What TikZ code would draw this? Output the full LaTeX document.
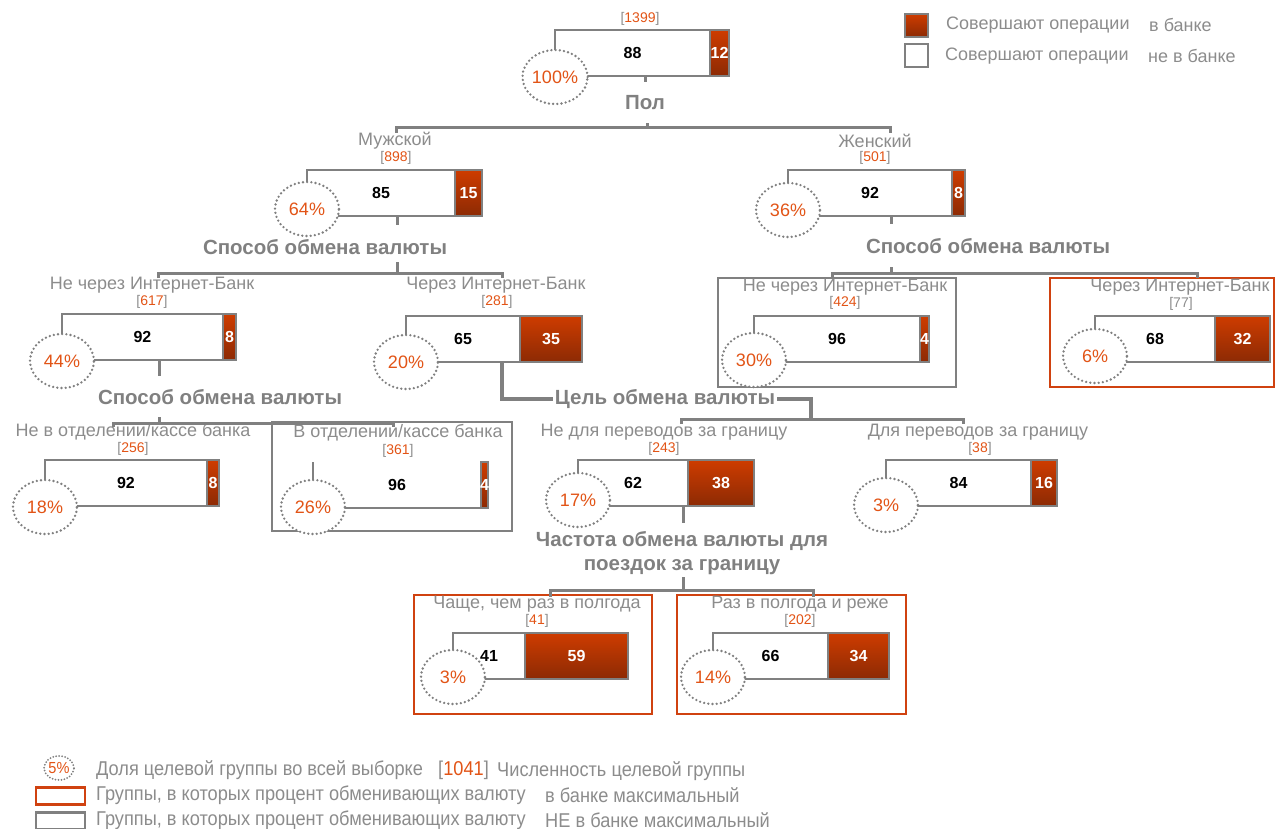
\documentclass[tikz,border=0pt]{standalone}
\usepackage{fontspec}
\setmainfont{Liberation Sans}
\newfontfamily\narrowfont[FakeStretch=0.91]{Liberation Sans}
\usetikzlibrary{shapes.geometric}
\definecolor{lnGray}{RGB}{128,128,128}
\definecolor{lblGray}{RGB}{140,140,140}
\definecolor{pctOrange}{RGB}{226,84,22}
\definecolor{frOrange}{RGB}{208,66,16}
\definecolor{barTop}{RGB}{206,60,0}
\definecolor{barBot}{RGB}{140,42,4}
\tikzstyle{line} = [draw=lnGray, line width=3pt]
\tikzstyle{barframe} = [draw=lnGray, line width=2.5pt]
\tikzstyle{redfill} = [top color=barTop, bottom color=barBot, draw=lnGray, line width=2.5pt]
\tikzstyle{pct} = [ellipse, draw=lnGray, fill=white, line width=2.6pt, dash pattern=on 0pt off 4.2pt, line cap=round, text=pctOrange, font=\fontsize{18}{18}\selectfont, minimum width=64pt, minimum height=54pt, inner sep=0pt]
\tikzstyle{lbl} = [text=lblGray, font=\fontsize{18}{20}\selectfont, inner sep=0pt]
\tikzstyle{cntlbl} = [font=\fontsize{14}{15}\selectfont, inner sep=0pt]
\tikzstyle{ttl} = [text=lnGray, font=\bfseries\fontsize{20.5}{24}\selectfont, align=center, inner sep=2pt]
\tikzstyle{valw} = [font=\bfseries\fontsize{16}{16}\selectfont, inner sep=0pt]
\tikzstyle{valr} = [valw, text=white]
\tikzstyle{hibox} = [draw=frOrange, line width=2.5pt]
\tikzstyle{lobox} = [draw=lnGray, line width=2.5pt]
\tikzstyle{leg} = [text=lblGray, font=\narrowfont\fontsize{20}{22}\selectfont, inner sep=0pt]
\newcommand{\cnt}[1]{\textcolor{lblGray}{[}\textcolor{pctOrange}{#1}\textcolor{lblGray}{]}}
% name, left, top, split, right, white value, red value, share, share y
\newcommand{\splitbar}[9]{%
  \draw[barframe] (#4,#3) -- (#2,#3) -- (#2,#3+46) -- (#4,#3+46);
  \path[redfill] (#4,#3) rectangle (#5,#3+46);
  \node[inner sep=0pt, minimum width={(#5-#2)*1pt}, minimum height=46pt] (#1) at ({(#2+#5)/2},{#3+23}) {};
  \node[pct] (#1-p) at (#2,#9) {#8};
  \node[valw] (#1-w) at ({(#2+#4)/2},{#3+23}) {#6};
  \node[valr] (#1-r) at ({(#4+#5)/2},{#3+23}) {#7};
}

\begin{document}
\begin{tikzpicture}[x=1pt,y=-1pt]
\useasboundingbox (0,0) rectangle (1276,829);

% legend, top right
\node[redfill, minimum size=23pt, inner sep=0pt] (lg-red) at (916.5,25.5) {};
\node[barframe, minimum size=23pt, inner sep=0pt] (lg-white) at (916.5,55.5) {};
\node[lbl, anchor=west] (lg-red-t) at (946,25) {Совершают операции};
\node[lbl, anchor=west] (lg-red-t2) at (1149,25) {в банке};
\node[lbl, anchor=west] (lg-white-t) at (945,56) {Совершают операции};
\node[lbl, anchor=west] (lg-white-t2) at (1148,56) {не в банке};

% group frames
\draw[lobox] (718,278) rectangle (956,387);
\draw[hibox] (1050,278) rectangle (1274,387);
\draw[lobox] (272,422) rectangle (512,531);
\draw[hibox] (414,595) rectangle (652,714);
\draw[hibox] (677,595) rectangle (906,714);

% root
\node[cntlbl] (root-n) at (640,19) {\cnt{1399}};
\splitbar{root}{555}{30}{710}{729}{88}{12}{100\%}{77}
\node[ttl] (pol) at (645,103) {Пол};

% sex
\node[lbl] (men-l) at (395,141) {Мужской};
\node[cntlbl] (men-n) at (396,158) {\cnt{898}};
\splitbar{men}{307}{170}{455}{482}{85}{15}{64\%}{209}
\node[lbl] (wom-l) at (875,141) {Женский};
\node[cntlbl] (wom-n) at (875,158) {\cnt{501}};
\splitbar{wom}{788}{170}{952}{965}{92}{8}{36\%}{210}

\coordinate (pol-br) at (647,128);
\coordinate (men-in) at (396,133);
\coordinate (wom-in) at (890,133);
\draw[line] (root.south -| pol) -- ++(0,6);
\draw[line] (men-in) |- (pol-br) -| (wom-in);
\draw[line] (pol-br) -- ++(0,-5);

\node[ttl] (men-way) at (325,247) {Способ обмена валюты};
\node[ttl] (wom-way) at (988,246) {Способ обмена валюты};

% men, way of exchange
\node[lbl] (m-nib-l) at (152,285) {Не через Интернет-Банк};
\node[cntlbl] (m-nib-n) at (152,302) {\cnt{617}};
\splitbar{m-nib}{62}{314}{223}{236}{92}{8}{44\%}{361}
\node[lbl] (m-ib-l) at (496,285) {Через Интернет-Банк};
\node[cntlbl] (m-ib-n) at (497,302) {\cnt{281}};
\splitbar{m-ib}{406}{316}{520}{582}{65}{35}{20\%}{362}

\coordinate (men-br) at (397,273);
\coordinate (m-nib-in) at (158,278);
\coordinate (m-ib-in) at (502,278);
\draw[line] (men.south -| men-br) -- ++(0,9);
\draw[line] (m-nib-in) |- (men-br) -| (m-ib-in);
\draw[line] (men-br) -- ++(0,-11);

% women, way of exchange
\node[lbl] (w-nib-l) at (845,287) {Не через Интернет-Банк};
\node[cntlbl] (w-nib-n) at (845,303) {\cnt{424}};
\splitbar{w-nib}{754}{316}{920}{929}{96}{4}{30\%}{360}
\node[lbl] (w-ib-l) at (1180,287) {Через Интернет-Банк};
\node[cntlbl, text=lblGray] (w-ib-n) at (1181,304) {[77]};
\splitbar{w-ib}{1095}{316}{1215}{1270}{68}{32}{6\%}{356}

\coordinate (wom-br) at (891,273);
\coordinate (w-nib-in) at (832,278);
\coordinate (w-ib-in) at (1197,278);
\draw[line] (wom.south -| wom-br) -- ++(0,8);
\draw[line] (w-nib-in) |- (wom-br) -| (w-ib-in);
\draw[line] (wom-br) -- ++(0,-6);

% office or not
\node[ttl] (nib-way) at (220,397) {Способ обмена валюты};
\node[lbl] (noff-l) at (133,432) {Не в отделении/кассе банка};
\node[cntlbl] (noff-n) at (133,449) {\cnt{256}};
\splitbar{noff}{45}{460}{207}{219}{92}{8}{18\%}{507}
\node[lbl] (off-l) at (398,433) {В отделении/кассе банка};
\node[cntlbl] (off-n) at (398,451) {\cnt{361}};
\draw[barframe] (313,462) -- (313,508) -- (481,508);
\path[redfill] (481,462) rectangle (488,508);
\node[inner sep=0pt, minimum width=175pt, minimum height=46pt] (off) at (400.5,485) {};
\node[pct] (off-p) at (313,507) {26\%};
\node[valw] (off-w) at (397,485) {96};
\node[valr] (off-r) at (484.5,485) {4};

\coordinate (nib-br) at (159,423);
\coordinate (noff-in) at (113,427);
\coordinate (off-in) at (393,427);
\draw[line] (m-nib.south -| nib-br) -- ++(0,16);
\draw[line] (noff-in) |- (nib-br) -| (off-in);
\draw[line] (nib-br) -- ++(0,-6);

% purpose
\node[ttl] (goal) at (665,399) {Цель обмена валюты};
\coordinate (goal-br) at (811,419);
\coordinate (nabr-in) at (681,424);
\coordinate (abr-in) at (963,424);
\draw[line, line width=3.5pt] (m-ib.south -| m-ib-in) |- (goal.west);
\draw[line, line width=3.5pt] (goal.east) -| (goal-br);
\draw[line] (nabr-in) |- (goal-br) -| (abr-in);

\node[lbl] (nabr-l) at (664,432) {Не для переводов за границу};
\node[cntlbl] (nabr-n) at (664,449) {\cnt{243}};
\splitbar{nabr}{578}{460}{688}{754}{62}{38}{17\%}{500}
\node[lbl] (abr-l) at (978,432) {Для переводов за границу};
\node[cntlbl] (abr-n) at (980,449) {\cnt{38}};
\splitbar{abr}{886}{460}{1031}{1057}{84}{16}{3\%}{505}

% frequency
\node[ttl] (freq) at (682,553) {Частота обмена валюты для\\поездок за границу};
\coordinate (freq-br) at (683,590);
\coordinate (often-in) at (550,597);
\coordinate (rare-in) at (813,597);
\draw[line] (nabr.south -| freq-br) -- ++(0,17);
\draw[line] (often-in) |- (freq-br) -| (rare-in);
\draw[line] (freq-br) -- (freq-br |- freq.south);

\node[lbl] (often-l) at (537,604) {Чаще, чем раз в полгода};
\node[cntlbl] (often-n) at (537,621) {\cnt{41}};
\splitbar{often}{453}{633}{525}{628}{41}{59}{3\%}{677}
\node[lbl] (rare-l) at (800,604) {Раз в полгода и реже};
\node[cntlbl] (rare-n) at (800,621) {\cnt{202}};
\splitbar{rare}{713}{633}{828}{889}{66}{34}{14\%}{677}

% legend, bottom
\node[pct, minimum width=30pt, minimum height=24pt, line width=2pt, dash pattern=on 0pt off 3pt, font=\narrowfont\fontsize{16}{16}\selectfont] (lg-pct) at (59,768) {5\%};
\node[leg, anchor=west] (lg-share) at (96,770) {Доля целевой группы во всей выборке};
\node[leg, anchor=west] (lg-cnt) at (438,770) {\cnt{1041}};
\node[leg, anchor=west] (lg-size) at (497,771) {Численность целевой группы};
\node[hibox, minimum width=49pt, minimum height=17pt, inner sep=0pt] (lg-hi) at (60.5,796) {};
\node[leg, anchor=west] (lg-hi-t) at (96,795) {Группы, в которых процент обменивающих валюту};
\node[leg, anchor=west] (lg-hi-t2) at (545,795) {в банке максимальный};
\node[lobox, minimum width=49pt, minimum height=17pt, inner sep=0pt] (lg-lo) at (60.5,821) {};
\node[leg, anchor=west] (lg-lo-t) at (96,820) {Группы, в которых процент обменивающих валюту};
\node[leg, anchor=west] (lg-lo-t2) at (545,820) {НЕ в банке максимальный};
\end{tikzpicture}
\end{document}
